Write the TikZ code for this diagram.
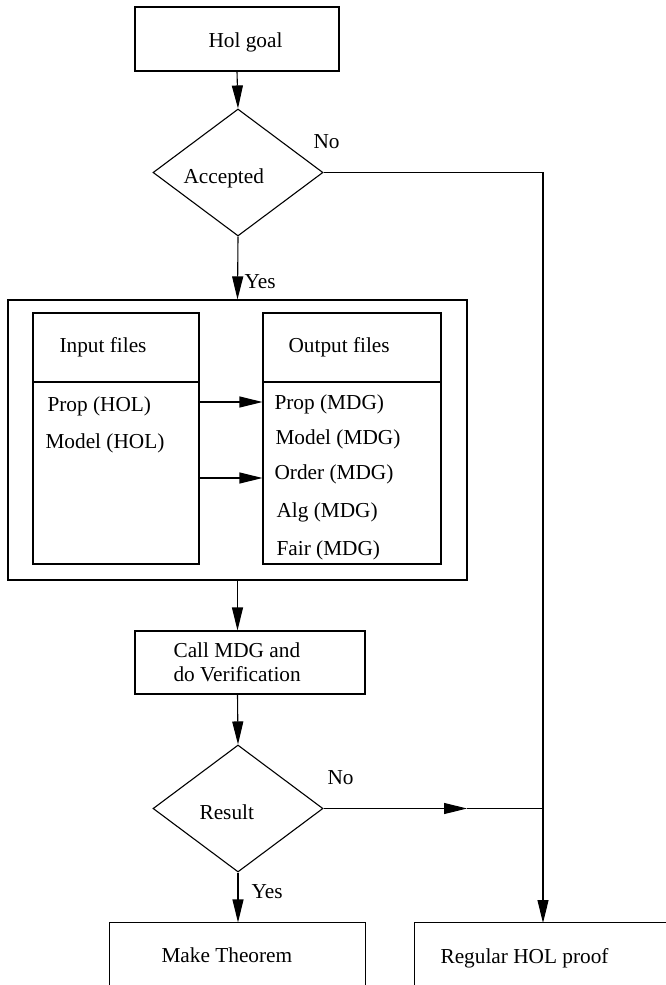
\documentclass[tikz,border=0pt]{standalone}
\usepackage{fontspec}
\setmainfont{Liberation Serif}
\usetikzlibrary{arrows.meta,shapes.geometric}
\begin{document}
\begin{tikzpicture}[x=1pt,y=-1pt,
  line width=1.1pt,
  box/.style={draw, rectangle, inner sep=0pt},
  openbox/.style={rectangle, inner sep=0pt},
  dia/.style={draw, diamond, inner sep=0pt, minimum width=170pt, minimum height=127pt},
  lbl/.style={inner sep=0pt, anchor=base west, font=\fontsize{21.3}{25}\selectfont},
  arr/.style={-{Triangle[length=23pt,width=11pt]}}]
\useasboundingbox (0,0) rectangle (665,985);

% nodes
\node[box, minimum width=204pt, minimum height=64pt] (goal) at (237,39) {};
\node[dia] (acc) at (238,172.5) {};
\node[box, minimum width=459pt, minimum height=280pt] (outer) at (237.5,440) {};
\node[box, minimum width=166pt, minimum height=251pt] (inp) at (116,438.5) {};
\node[box, minimum width=178pt, minimum height=251pt] (out) at (352,438.5) {};
\node[box, minimum width=230pt, minimum height=63pt] (call) at (250,662.5) {};
\node[dia] (res) at (238,808.5) {};
\node[openbox, minimum width=255pt, minimum height=62pt] (thm) at (237.5,954) {};
\node[openbox, minimum width=250pt, minimum height=62pt] (reg) at (540,954) {};

% open boxes at the bottom
\draw (thm.south west) -- (thm.north west) -- (thm.north east) -- (thm.south east);
\draw (reg.south west) -- (reg.north west) -- (reg.north east);

% dividers
\coordinate (dv) at (0,382);
\draw (inp.west |- dv) -- (inp.east |- dv);
\draw (out.west |- dv) -- (out.east |- dv);

% texts
\node[lbl] (tgoal) at (208,47) {Hol goal};
\node[lbl] (tacc) at (183,183) {Accepted};
\node[lbl] (tno1) at (313,148) {No};
\node[lbl] (tyes1) at (244,288) {Yes};
\node[lbl] (tin) at (59,352) {Input files};
\node[lbl] (tout) at (288,352) {Output files};
\node[lbl] (ti1) at (47,411) {Prop (HOL)};
\node[lbl] (ti2) at (45,448) {Model (HOL)};
\node[lbl] (to1) at (274,409) {Prop (MDG)};
\node[lbl] (to2) at (275,444) {Model (MDG)};
\node[lbl] (to3) at (274,479) {Order (MDG)};
\node[lbl] (to4) at (276,517) {Alg (MDG)};
\node[lbl] (to5) at (276,555) {Fair (MDG)};
\node[lbl] (tc1) at (173,657) {Call MDG and};
\node[lbl] (tc2) at (173,681) {do Verification};
\node[lbl] (tres) at (199,819) {Result};
\node[lbl] (tno2) at (327,784) {No};
\node[lbl] (tyes2) at (251,898) {Yes};
\node[lbl] (tthm) at (161,962) {Make Theorem};
\node[lbl] (treg) at (440,963) {Regular HOL proof};

% connectors
\draw[arr] (goal.south) -- (acc.north);
\draw[arr] (acc.south) -- (outer.north);
\coordinate (a1) at (0,402);
\coordinate (a2) at (0,478);
\draw[arr] (inp.east |- a1) -- (out.west |- a1);
\draw[arr] (inp.east |- a2) -- (out.west |- a2);
\draw[arr] (outer.south) -- (outer.south |- call.north);
\draw[arr] (outer.south |- call.south) -- (res.north);
\draw[arr] (res.south) -- (res.south |- thm.north);
\coordinate (corner) at (543,172.5);
\coordinate (regtop) at (543,923);
\coordinate (mid) at (467,808.5);
\coordinate (junc) at (543,808.5);
\draw[arr] (acc.east) -- (corner) -- (regtop);
\draw[arr] (res.east) -- (mid);
\draw (mid) -- (junc);
\end{tikzpicture}
\end{document}
